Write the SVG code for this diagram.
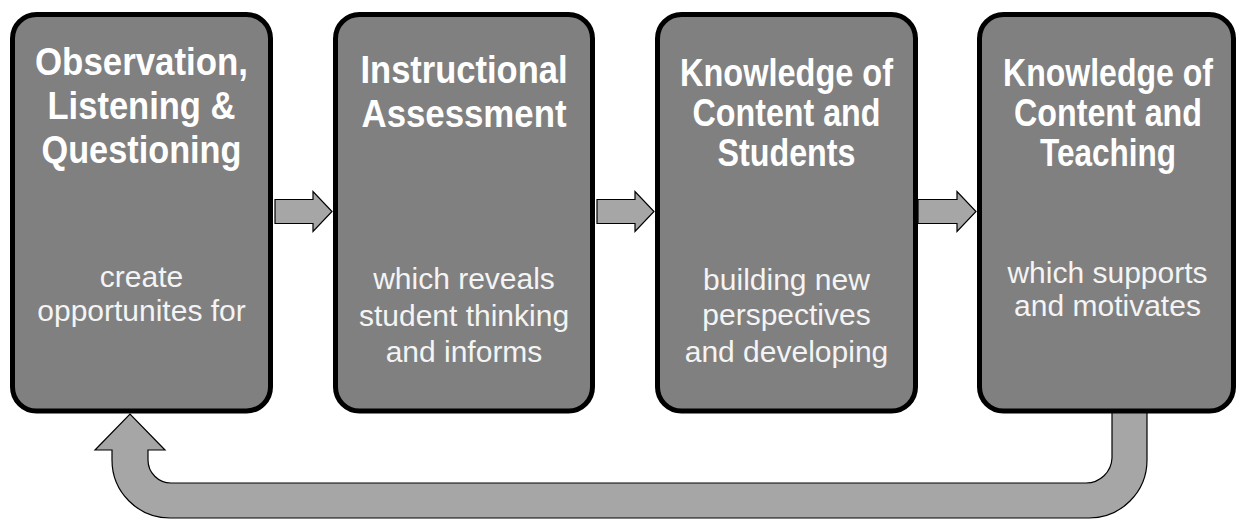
<svg xmlns="http://www.w3.org/2000/svg" width="1236" height="520" viewBox="0 0 1236 520">
<style>
.box{fill:#808080;stroke:#000;stroke-width:5}
.arr{fill:#a6a6a6;stroke:#000;stroke-width:1.2;stroke-linejoin:miter}
.t{font-family:"Liberation Sans",Arial,sans-serif;font-weight:bold;font-size:39px;fill:#fff;text-anchor:middle}
.b{font-family:"Liberation Sans",Arial,sans-serif;font-size:30px;fill:#f4f4f4;text-anchor:middle}
</style>
<rect width="1236" height="520" fill="#fff"/>
<g id="connectors">
<path class="arr" d="M1112,405 L1112,458 A26,26 0 0 1 1086,483 L171,483 A23,23 0 0 1 148,460 L148,450 L165,450 L130,414 L95,450 L112,450 L112,460 A58,58 0 0 0 170,518 L1089,518 A58,58 0 0 0 1147,460 L1147,405 Z"/>
<polygon class="arr" points="275,199.5 313,199.5 313,191.5 332,211.5 313,231.5 313,223.5 275,223.5"/>
<polygon class="arr" points="597,199.5 635,199.5 635,191.5 654,211.5 635,231.5 635,223.5 597,223.5"/>
<polygon class="arr" points="918,199.5 957,199.5 957,191.5 976,211.5 957,231.5 957,223.5 918,223.5"/>
</g>
<g id="node1">
<rect class="box" x="12.5" y="14.5" width="258" height="396.5" rx="24"/>
<text class="t" x="141.5" y="75" textLength="213" lengthAdjust="spacingAndGlyphs">Observation,</text>
<text class="t" x="141.5" y="119" textLength="188" lengthAdjust="spacingAndGlyphs">Listening &amp;</text>
<text class="t" x="141.5" y="163" textLength="200" lengthAdjust="spacingAndGlyphs">Questioning</text>
<text class="b" x="141.5" y="287">create</text>
<text class="b" x="141.5" y="321">opportunites for</text>
</g>
<g id="node2">
<rect class="box" x="335.5" y="14.5" width="257" height="396.5" rx="24"/>
<text class="t" x="464" y="83" textLength="207" lengthAdjust="spacingAndGlyphs">Instructional</text>
<text class="t" x="464" y="127" textLength="205" lengthAdjust="spacingAndGlyphs">Assessment</text>
<text class="b" x="464" y="289">which reveals</text>
<text class="b" x="464" y="326">student thinking</text>
<text class="b" x="464" y="362">and informs</text>
</g>
<g id="node3">
<rect class="box" x="657.5" y="14.5" width="258" height="396.5" rx="24"/>
<text class="t" x="786.5" y="86" textLength="213" lengthAdjust="spacingAndGlyphs">Knowledge of</text>
<text class="t" x="786.5" y="126" textLength="188" lengthAdjust="spacingAndGlyphs">Content and</text>
<text class="t" x="786.5" y="166" textLength="138" lengthAdjust="spacingAndGlyphs">Students</text>
<text class="b" x="786.5" y="290">building new</text>
<text class="b" x="786.5" y="325">perspectives</text>
<text class="b" x="786.5" y="362">and developing</text>
</g>
<g id="node4">
<rect class="box" x="979.5" y="14.5" width="254" height="396.5" rx="24"/>
<text class="t" x="1108" y="86" textLength="210" lengthAdjust="spacingAndGlyphs">Knowledge of</text>
<text class="t" x="1108" y="126" textLength="188" lengthAdjust="spacingAndGlyphs">Content and</text>
<text class="t" x="1108" y="166" textLength="136" lengthAdjust="spacingAndGlyphs">Teaching</text>
<text class="b" x="1107.5" y="283">which supports</text>
<text class="b" x="1107.5" y="316">and motivates</text>
</g>
</svg>
